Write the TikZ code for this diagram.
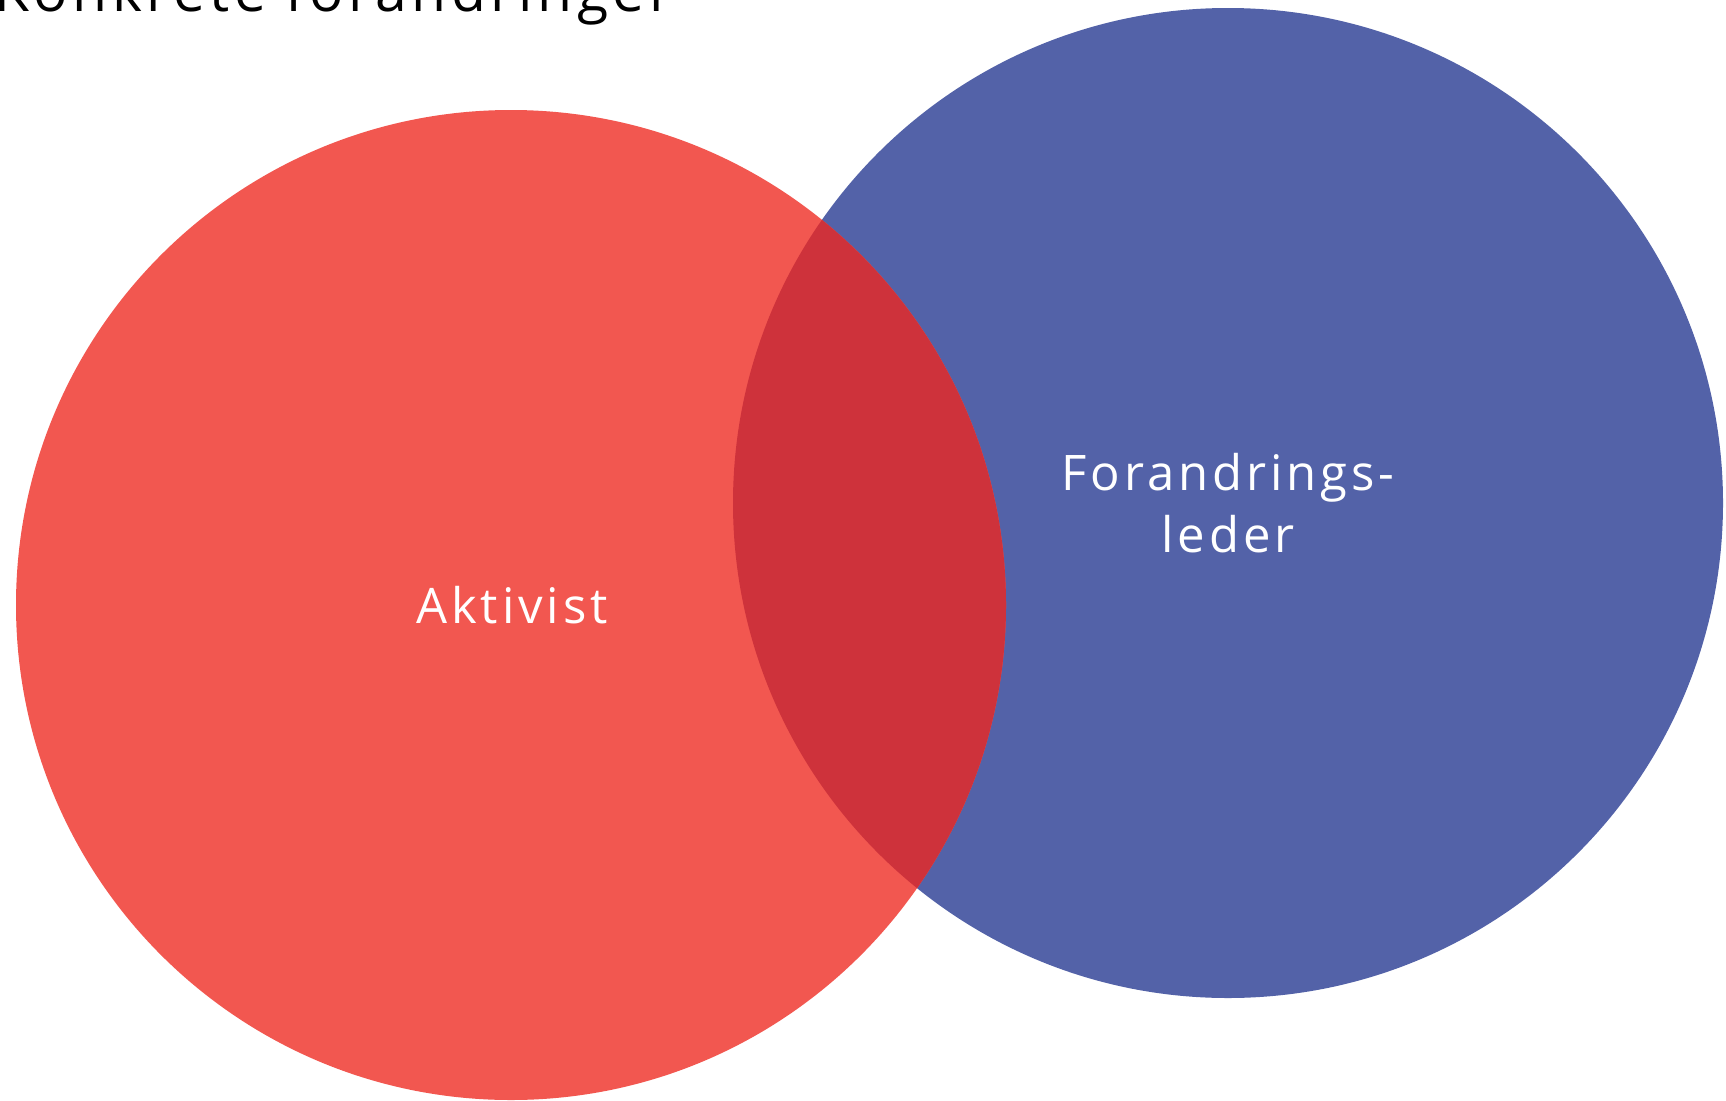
\documentclass[tikz,border=0pt]{standalone}
\usepackage{fontspec}
\setmainfont{Open Sans}[LetterSpace=8]
\definecolor{cred}{HTML}{F25750}
\definecolor{cblue}{HTML}{5362A8}
\definecolor{cover}{HTML}{CE323B}
\tikzset{
  venn/.style={circle, minimum size=990pt, inner sep=0pt, draw=none},
  lbl/.style={text=white, font=\fontsize{49}{62}\selectfont, anchor=base, inner sep=0pt},
}
\begin{document}
\begin{tikzpicture}[x=1pt,y=-1pt]
\useasboundingbox (0,0) rectangle (1726,1100);
\clip (0,0) rectangle (1726,1100);
\node[venn, fill=cblue] (B) at (1228,503) {};
\node[venn, fill=cred] (A) at (511,605) {};
\begin{scope}
  \clip (511,605) circle[radius=495pt];
  \fill[cover] (1228,503) circle[radius=495pt];
\end{scope}
\node[anchor=base west, inner sep=0pt, font=\fontsize{57}{60}\selectfont] (T) at (-6,12) {Konkrete forandringer};
\node[lbl] (LA) at (512,623) {Aktivist};
\node[lbl] (LB1) at (1228,490) {Forandrings-};
\node[lbl] (LB2) at (1228,552) {leder};
\end{tikzpicture}
\end{document}
